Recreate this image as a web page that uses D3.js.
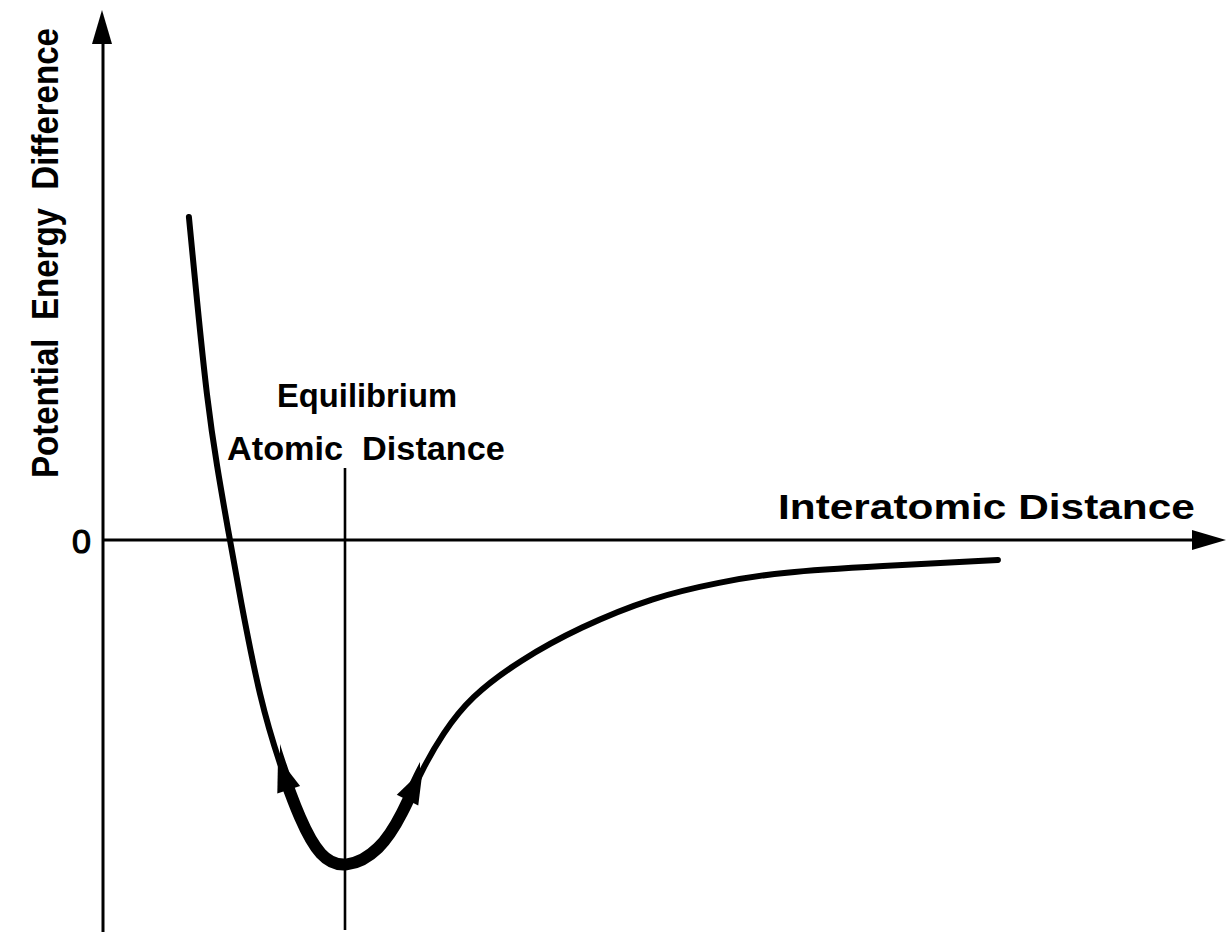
<!DOCTYPE html>
<html>
<head>
<meta charset="utf-8">
<script src="https://cdn.jsdelivr.net/npm/d3@7"></script>
<style>
  html, body { margin: 0; padding: 0; background: #fff; }
  svg { display: block; }
  .lbl { font-family: "Liberation Sans", Arial, sans-serif; font-weight: bold; fill: #000; white-space: pre; }
</style>
</head>
<body>
<div id="chart"></div>
<script>
// -----------------------------------------------------------------------------
// Data (r in units of the equilibrium distance, E in units of the well depth)
// -----------------------------------------------------------------------------

var rValues = [0.355, 0.388, 0.430, 0.471, 0.517, 0.566, 0.649, 0.731, 0.814, 0.897, 1.000,
               1.145, 1.240, 1.310, 1.405, 1.517, 1.723, 1.971, 2.273, 2.550, 2.798, 3.211, 3.698];
var energyValues = [0.991, 0.736, 0.429, 0.224, 0.031, -0.175, -0.491, -0.690, -0.859, -0.975, -1.010,
                    -0.955, -0.837, -0.715, -0.592, -0.482, -0.368, -0.267, -0.175, -0.129, -0.098, -0.080, -0.061];
var thickFrom = 0.731;   // start of the heavy stretch (arrow at each end)
var thickTo = 1.310;
var yTickLabels = ["0"];
var xTitle = "Interatomic Distance";
var yTitle = "Potential  Energy  Difference";
var eqLabel = ["Equilibrium", "Atomic  Distance"];

// -----------------------------------------------------------------------------
// Setup
// -----------------------------------------------------------------------------

var W = 1229, H = 932;

var xScale = d3.scaleLinear().domain([0, 1]).range([103, 345]);
var yScale = d3.scaleLinear().domain([0, -1]).range([540, 866]);

var svg = d3.select("#chart").append("svg")
    .attr("width", W)
    .attr("height", H);

var points = rValues.map(function(r, i) { return {r: r, e: energyValues[i]}; });

function arrowHead(tip, dir, len, half) {
  // dir: unit vector pointing toward the tip
  var bx = tip[0] - dir[0] * len, by = tip[1] - dir[1] * len;
  var nx = -dir[1], ny = dir[0];
  return "M" + tip[0] + "," + tip[1] +
         "L" + (bx + nx * half) + "," + (by + ny * half) +
         "L" + (bx - nx * half) + "," + (by - ny * half) + "Z";
}

// squeeze a label horizontally so it spans the given width
function fitLabel(transform, size, width, str) {
  var g = svg.append("g");
  var t = g.append("text")
      .attr("class", "lbl")
      .attr("font-size", size)
      .text(str);
  var s = width / t.node().getComputedTextLength();
  g.attr("transform", transform + " scale(" + s + ",1)");
  return t;
}

// axes
var x0 = xScale(0), y0 = yScale(0);

svg.append("line")
    .attr("x1", x0).attr("y1", H)
    .attr("x2", x0).attr("y2", 30)
    .attr("stroke", "#000").attr("stroke-width", 3);
svg.append("path")
    .attr("d", arrowHead([x0 - 1, 10], [0, -1], 34, 10))
    .attr("fill", "#000");

svg.append("line")
    .attr("x1", x0).attr("y1", y0)
    .attr("x2", 1205).attr("y2", y0)
    .attr("stroke", "#000").attr("stroke-width", 3);
svg.append("path")
    .attr("d", arrowHead([1226, y0], [1, 0], 34, 10))
    .attr("fill", "#000");

svg.selectAll(".ytick")
    .data(yTickLabels)
  .enter().append("text")
    .attr("class", "lbl")
    .attr("x", x0 - 12)
    .attr("y", y0 + 13)
    .attr("text-anchor", "end")
    .attr("font-size", 34)
    .style("font-weight", "normal")
    .attr("stroke", "#000")
    .attr("stroke-width", 1.2)
    .text(function(d) { return d; });

// equilibrium marker
svg.append("line")
    .attr("x1", xScale(1)).attr("y1", 468)
    .attr("x2", xScale(1)).attr("y2", 930)
    .attr("stroke", "#000").attr("stroke-width", 2.6);

// curve
var line = d3.line()
    .x(function(d) { return xScale(d.r); })
    .y(function(d) { return yScale(d.e); })
    .curve(d3.curveBasis);

svg.append("path")
    .datum(points)
    .attr("d", line)
    .attr("fill", "none")
    .attr("stroke", "#000")
    .attr("stroke-width", 6)
    .attr("stroke-linecap", "round");

var thick = points.filter(function(d) { return d.r >= thickFrom && d.r <= thickTo; });
var iFirst = points.indexOf(thick[0]), iLast = points.indexOf(thick[thick.length - 1]);
var thickPath = points.slice(iFirst - 1, iLast + 2);

// heavy stretch: clip the same smooth curve to the span between the arrows
svg.append("clipPath").attr("id", "thickClip")
  .append("rect")
    .attr("x", xScale(thickFrom)).attr("y", 0)
    .attr("width", xScale(thickTo) - xScale(thickFrom)).attr("height", H);
svg.append("path")
    .datum(points)
    .attr("d", line)
    .attr("clip-path", "url(#thickClip)")
    .attr("fill", "none")
    .attr("stroke", "#000")
    .attr("stroke-width", 12);

// arrow tips sit on the smooth path where x reaches the stretch ends
var pathNode = svg.append("path").datum(points).attr("d", line)
    .attr("fill", "none").attr("stroke", "none").node();
var total = pathNode.getTotalLength();
function pointAtX(px) {
  var lo = 0, hi = total;
  for (var k = 0; k < 40; k++) {
    var mid = (lo + hi) / 2;
    if (pathNode.getPointAtLength(mid).x < px) lo = mid; else hi = mid;
  }
  return lo;
}
function arrowAt(r, backwards) {
  var l = pointAtX(xScale(r));
  var p = pathNode.getPointAtLength(l);
  var q = pathNode.getPointAtLength(backwards ? l - 4 : l + 4);
  var dx = q.x - p.x, dy = q.y - p.y, n = Math.sqrt(dx * dx + dy * dy);
  var tip = [p.x + dx / n * 6, p.y + dy / n * 6];
  svg.append("path")
      .attr("d", arrowHead(tip, [dx / n, dy / n], 34, 12))
      .attr("fill", "#000");
}
arrowAt(thickFrom, true);
arrowAt(thickTo, false);

// titles
fitLabel("translate(778,519)", 36, 417, xTitle);
fitLabel("translate(58,478) rotate(-90)", 37, 450, yTitle);
fitLabel("translate(277,407)", 33, 180, eqLabel[0]);
fitLabel("translate(227,460)", 33, 278, eqLabel[1]);
</script>
</body>
</html>
